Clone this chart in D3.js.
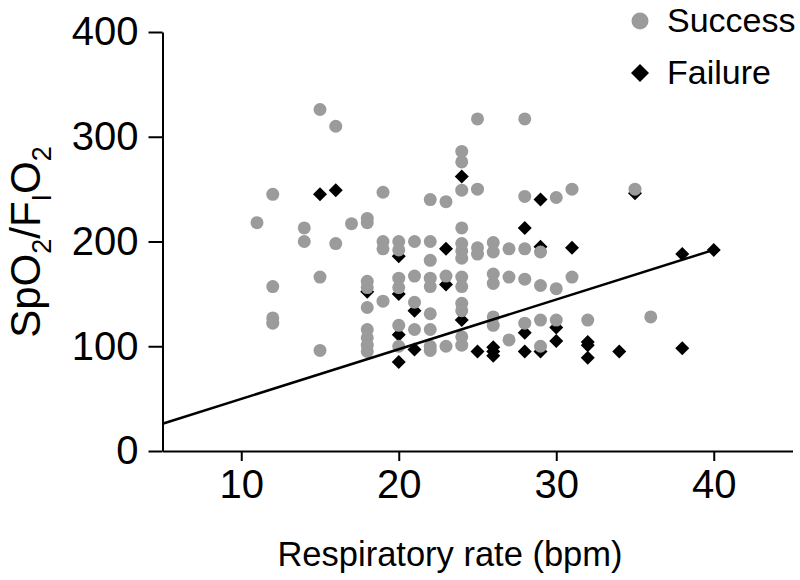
<!DOCTYPE html>
<html>
<head>
<meta charset="utf-8">
<script src="https://cdn.jsdelivr.net/npm/d3@7"></script>
<style>
  html, body { margin: 0; padding: 0; background: #fff; }
  svg { display: block; }
  text { font-family: "Liberation Sans", Arial, Helvetica, sans-serif; fill: #000; }
</style>
</head>
<body>
<svg id="chart" width="800" height="580"></svg>
<script>
// ---- Data ----
const successRate = [11,
  12,12,12,12,
  14,14,
  15,15,15,
  16,16,
  17,
  18,18,18,18,18,18,18,18,18,
  19,19,19,19,
  20,20,20,20,20,20,
  21,21,21,21,
  22,22,22,22,22,22,22,22,22,
  23,23,23,
  24,24,24,24,24,24,24,24,24,24,24,24,24,
  25,25,25,25,
  26,26,26,26,26,26,
  27,27,27,
  28,28,28,28,28,
  29,29,29,29,
  30,30,30,
  31,31,
  32,
  35,
  36];
const successSF = [218,
  245,157,127,122,
  213,200,
  326,166,96,
  310,198,
  217,
  222,218,162,156,137,116,108,101,95,
  247,200,193,143,
  200,192,165,156,120,100,
  200,167,142,116,
  240,200,182,165,157,131,116,100,96,
  238,167,100,
  286,276,249,213,198,191,184,166,157,141,134,109,101,
  317,250,194,188,
  199,190,169,160,128,120,
  193,166,106,
  317,243,193,164,122,
  190,158,125,100,
  242,155,125,
  250,166,
  125,
  250,
  128];

const failureRate = [15, 16, 18, 20,20,20,20, 21,21, 23,23, 24,24, 25, 26,26,26,
  28,28,28, 29,29,29, 30,30, 31, 32,32,32, 34, 35, 38,38, 40];
const failureSF   = [245, 249, 152, 186,150,111,85, 134,97, 193,159, 262,125, 95, 99,95,91,
  213,113,95, 240,195,95, 118,105, 194, 104,101,89, 95, 246, 188,98, 192];

// Regression line end points
const lineRate = [5, 40];
const lineSF   = [26, 192];

const xTicks = [10, 20, 30, 40];
const yTicks = [0, 100, 200, 300, 400];
const seriesNames = ["Success", "Failure"];

// ---- Chart ----
const svg = d3.select("#chart");
const x = d3.scaleLinear().domain([5, 45]).range([162.5, 792.5]);
const y = d3.scaleLinear().domain([0, 400]).range([451, 32]);

const FS = 34;     // titles / legend
const TFS = 40;    // tick labels

// Axes
const yAxis = svg.append("g")
  .attr("transform", `translate(${x(5)},0)`)
  .call(d3.axisLeft(y).tickValues(yTicks).tickSize(14).tickSizeOuter(0).tickPadding(10));
const xAxis = svg.append("g")
  .attr("transform", `translate(0,${y(0)})`)
  .call(d3.axisBottom(x).tickValues(xTicks).tickSize(10).tickSizeOuter(0).tickPadding(9));

[xAxis, yAxis].forEach(g => {
  g.selectAll("path.domain").attr("stroke", "#000").attr("stroke-width", 2);
  g.selectAll(".tick line").attr("stroke", "#000").attr("stroke-width", 2);
  g.selectAll(".tick text").attr("font-size", TFS).attr("font-family", "Liberation Sans, Arial, sans-serif").attr("fill", "#000");
});

// Points: failures first, successes on top
const failData = failureRate.map((r, i) => ({ r, v: failureSF[i] }));
const succData = successRate.map((r, i) => ({ r, v: successSF[i] }));

const diamond = (cx, cy, s) => `M${cx},${cy - s}L${cx + s},${cy}L${cx},${cy + s}L${cx - s},${cy}Z`;

svg.append("g").selectAll("path")
  .data(failData).join("path")
  .attr("d", d => diamond(x(d.r), y(d.v), 7))
  .attr("fill", "#000");

svg.append("g").selectAll("circle")
  .data(succData).join("circle")
  .attr("cx", d => x(d.r))
  .attr("cy", d => y(d.v))
  .attr("r", 6.5)
  .attr("fill", "#9b9b9b");

// Regression line
svg.append("line")
  .attr("x1", x(lineRate[0])).attr("y1", y(lineSF[0]))
  .attr("x2", x(lineRate[1])).attr("y2", y(lineSF[1]))
  .attr("stroke", "#000").attr("stroke-width", 2.5);

// Axis titles
svg.append("text")
  .attr("x", 450)
  .attr("y", 566)
  .attr("text-anchor", "middle")
  .attr("font-size", 34.5)
  .text("Respiratory rate (bpm)");

const yl = svg.append("text")
  .attr("transform", "translate(40,242) rotate(-90)")
  .attr("text-anchor", "middle")
  .attr("font-size", 42);
yl.append("tspan").text("SpO");
yl.append("tspan").attr("font-size", 27).attr("dy", 11).text("2");
yl.append("tspan").attr("dy", -11).text("/F");
yl.append("tspan").attr("font-size", 27).attr("dy", 11).text("I");
yl.append("tspan").attr("dy", -11).text("O");
yl.append("tspan").attr("font-size", 27).attr("dy", 11).text("2");

// Legend
const leg = svg.append("g");
leg.append("circle").attr("cx", 640).attr("cy", 21).attr("r", 8.5).attr("fill", "#9b9b9b");
leg.append("path").attr("d", diamond(640, 73, 9)).attr("fill", "#000");
leg.append("text").attr("x", 667).attr("y", 32).attr("font-size", FS).text(seriesNames[0]);
leg.append("text").attr("x", 667).attr("y", 84).attr("font-size", FS).text(seriesNames[1]);
</script>
</body>
</html>
